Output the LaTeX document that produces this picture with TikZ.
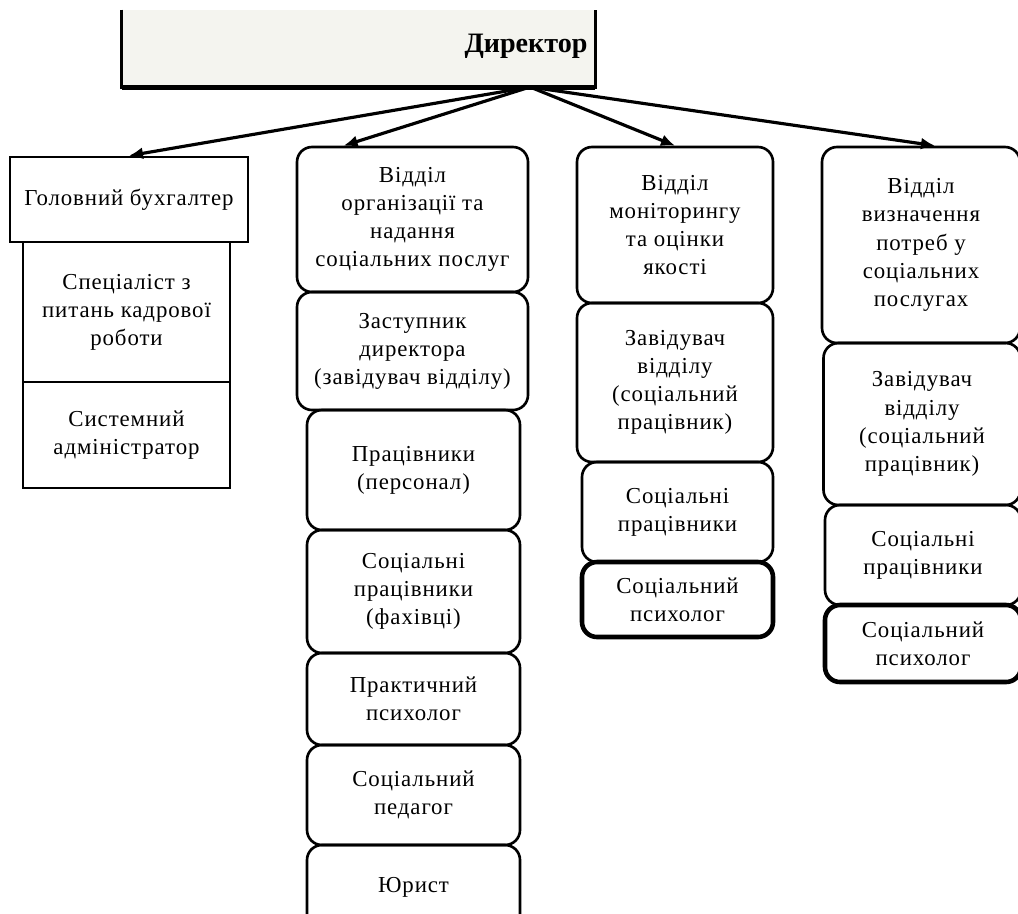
\documentclass[tikz,border=0pt]{standalone}
\usepackage{fontspec}
\setmainfont[LetterSpace=4]{Liberation Serif}
\newfontfamily\dirfont{Liberation Serif}
\usetikzlibrary{arrows.meta}
\definecolor{dirfill}{RGB}{244,244,239}
\tikzset{
  box/.style={draw,line width=1.5pt,align=center,inner sep=2pt,font=\fontsize{13}{16}\selectfont},
  rbox/.style={box,rounded corners=0.3cm},
  arrow/.style={line width=1.8pt,-{Latex[length=2.8mm,width=2.4mm]}},
}
\begin{document}
\begin{tikzpicture}
	\useasboundingbox (0,0) rectangle (20.36,-18.26);
	\clip (0,0) rectangle (20.36,-18.26);
	% director
	\node[fill=dirfill,minimum width=9.46cm,minimum height=1.54cm] (A) at (7.17,-0.97) {};
	\draw[line width=1.5pt] (A.north west) |- (A.south east) -- (A.north east);
	\draw[line width=2.6pt] (A.south west) -- (A.south east);
	\node[font=\dirfont\fontsize{16}{18}\selectfont\bfseries] (T) at (10.52,-0.92) {Директор};
	\coordinate (X) at (10.6,-1.74);
	% left column
	\node[box,minimum width=4.76cm,minimum height=1.70cm] (B) at (2.58,-3.99) {Головний бухгалтер};
	\node[box,minimum width=4.14cm,minimum height=2.80cm] (C) at (2.53,-6.24) {Спеціаліст з\\питань кадрової\\роботи};
	\node[box,minimum width=4.14cm,minimum height=2.12cm] (D) at (2.53,-8.70) {Системний\\адміністратор};
	% second column
	\node[rbox,minimum width=4.62cm,minimum height=2.90cm] (E) at (8.25,-4.39) {Відділ\\організації та\\надання\\соціальних послуг};
	\node[rbox,minimum width=4.62cm,minimum height=2.36cm] (F) at (8.25,-7.02) {Заступник\\директора\\(завідувач відділу)};
	\node[rbox,minimum width=4.26cm,minimum height=2.40cm] (G) at (8.27,-9.40) {Працівники\\(персонал)};
	\node[rbox,minimum width=4.26cm,minimum height=2.46cm] (H) at (8.27,-11.83) {Соціальні\\працівники\\(фахівці)};
	\node[rbox,minimum width=4.26cm,minimum height=1.84cm] (I) at (8.27,-13.98) {Практичний\\психолог};
	\node[rbox,minimum width=4.26cm,minimum height=2.00cm] (J) at (8.27,-15.90) {Соціальний\\педагог};
	\node[rbox,minimum width=4.26cm,minimum height=1.70cm] (K) at (8.27,-17.75) {Юрист};
	% third column
	\node[rbox,minimum width=3.92cm,minimum height=3.12cm] (L) at (13.50,-4.50) {Відділ\\моніторингу\\та оцінки\\якості};
	\node[rbox,minimum width=3.92cm,minimum height=3.18cm] (M) at (13.50,-7.65) {Завідувач\\відділу\\(соціальний\\працівник)};
	\node[rbox,minimum width=3.82cm,minimum height=2.00cm] (N) at (13.55,-10.24) {Соціальні\\працівники};
	\node[rbox,line width=2.6pt,minimum width=3.82cm,minimum height=1.50cm] (O) at (13.55,-11.99) {Соціальний\\психолог};
	% fourth column
	\node[rbox,minimum width=3.96cm,minimum height=3.92cm] (P) at (18.42,-4.90) {Відділ\\визначення\\потреб у\\соціальних\\послугах};
	\node[rbox,minimum width=3.94cm,minimum height=3.24cm] (Q) at (18.44,-8.48) {Завідувач\\відділу\\(соціальний\\працівник)};
	\node[rbox,minimum width=3.92cm,minimum height=2.00cm] (R) at (18.46,-11.10) {Соціальні\\працівники};
	\node[rbox,line width=2.6pt,minimum width=3.92cm,minimum height=1.54cm] (S) at (18.46,-12.87) {Соціальний\\психолог};
	% arrows
	\draw[arrow] (X) -- (B.north);
	\draw[arrow] (X) -- (E.133);
	\draw[arrow] (X) -- (L.north);
	\draw[arrow] (X) -- (P.82);
\end{tikzpicture}
\end{document}
